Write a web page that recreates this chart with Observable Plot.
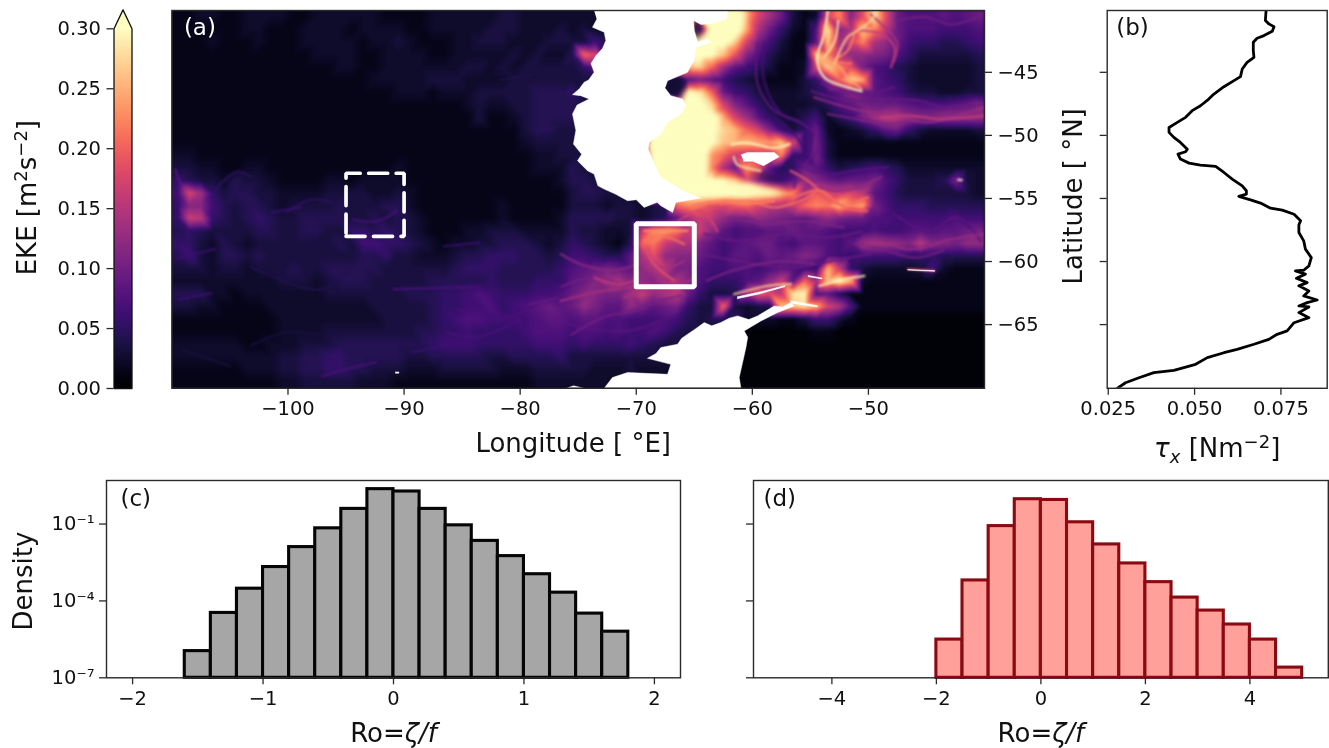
<!DOCTYPE html>
<html>
<head>
<meta charset="utf-8">
<script src="https://cdn.jsdelivr.net/npm/d3@7"></script>
<script src="https://cdn.jsdelivr.net/npm/@observablehq/plot@0.6"></script>
<style>
html,body{margin:0;padding:0;background:#fff}
#page{position:relative;width:1329px;height:748px;overflow:hidden;background:#fff}
#page svg{position:absolute;overflow:visible}
</style>
</head>
<body>
<div id="page"></div>
<script>
// ---------- Panel (c): Ro histogram, surface
const roEdgesC = [-1.6,-1.4,-1.2,-1.0,-0.8,-0.6,-0.4,-0.2,0,0.2,0.4,0.6,0.8,1.0,1.2,1.4,1.6,1.8];
const densityC = [1.1e-6,3.4e-5,3e-4,2.1e-3,1.26e-2,6.8e-2,0.39,2.3,1.86,0.39,0.089,0.022,5.6e-3,1.1e-3,2.1e-4,3.2e-5,6.3e-6];
// ---------- Panel (d): Ro histogram, red
const roEdgesD = [-2,-1.5,-1,-0.5,0,0.5,1,1.5,2,2.5,3,3.5,4,4.5,5];
const densityD = [3.1e-6,6.3e-4,0.083,0.93,0.87,0.117,0.016,2.9e-3,5.4e-4,1.35e-4,4.2e-5,1.2e-5,3.1e-6,2.5e-7];
// ---------- Panel (b): zonal wind stress against latitude
const tauX = [.0707,.0705,.0715,.0730,.0725,.0701,.0681,.0670,.0670,.0672,.0652,.0638,.0633,.0614,.0585,.0556,.0541,.0517,.0493,.0474,.0450,.0426,.0426,.0440,.0459,.0479,.0474,.0452,.0459,.0484,.0517,.0561,.0585,.0609,.0638,.0650,.0650,.0628,.0662,.0691,.0720,.0754,.0788,.0807,.0802,.0802,.0816,.0821,.0838,.0831,.0816,.0792,.0821,.0795,.0826,.0802,.0831,.0816,.0855,.0826,.0802,.0831,.0802,.0831,.0788,.0768,.0739,.0715,.0672,.0623,.0585,.0537,.0503,.0440,.0382,.0339,.0300,.0276];
const tauLat = [-40.1,-40.9,-41.16,-41.38,-41.75,-42.09,-42.3,-42.62,-43.28,-43.81,-44.21,-44.74,-45.34,-45.66,-46.14,-46.72,-47.12,-47.65,-48.04,-48.57,-48.97,-49.37,-49.76,-50.16,-50.56,-51.09,-51.3,-51.48,-51.88,-52.2,-52.36,-52.46,-52.94,-53.47,-54.0,-54.39,-54.66,-54.84,-55.11,-55.37,-55.77,-55.93,-56.25,-56.77,-57.09,-57.7,-58.36,-59.02,-59.69,-60.35,-60.69,-60.74,-61.0,-61.33,-61.67,-61.93,-62.33,-62.73,-63.05,-63.26,-63.52,-63.6,-64.05,-64.45,-64.85,-65.5,-65.77,-66.17,-66.56,-66.96,-67.23,-67.62,-68.15,-68.63,-68.81,-69.21,-69.61,-70.06];
// ---------- Panel (a): EKE on a 1 degree grid, one character per cell, in hundredths of m2/s2 (base 36)
const ekeWest = [
"1122112222112222221111222222332222",
"1111112211122221222211222223332223",
"1112111211122222122321112233322233",
"1111111111112222112222112222232322",
"1111111111111122112222222332323333",
"1111111111111111122222333222233333",
"1111111111111111111222122233333444",
"1111111111111111111111111232233444",
"1111111111111111111111111131123444",
"1111111111111111111111111111113443",
"1111111111111111111111111111112333",
"2211111111111111111111111111111223",
"3322112211111111111211111111111222",
"5433243321111221222211111111111112",
"6hd5344332222333322321111111111111",
"5bb6434432333343334421111111211111",
"5gf5434543344443343432111111211112",
"4543333443344335545432111223332222",
"5532432333333343665543212233444323",
"4632443433333333445332223445554434",
"3332332333433444443333334555444445",
"2222222223332344433333444445444555",
"4442212222222333333344455676555667",
"3322111122222222233333455667567898",
"1111111112222222223333456776666788",
"1111111112222333333334455655556777",
"2222221122233344444444566655555666",
"2222222223344554444433444443344445",
"1111112223344554433322233333222333",
"1111111112233333222111111111111222"];
const ekeEast = [
"2222222uuuuuuuuohd9312hmbisi97778789",
"2322222uuuu8uuuoe95217sbeqmf97776667",
"3364222uuuuuuuqha63118qdhmec96554456",
"4kh4222uuuuuuqjb74211pmeccba75333334",
"3583222uuuoqkd8643112hqmia7643222223",
"33332223328a8643211135ckro8653222223",
"5333222224tsk96532223468b98764332233",
"4322222uuuuurhb8532223478a999877789b",
"4322222uuuuusohd853246246adffcbbcccc",
"3322222uuuuuurpkhb635921235895322223",
"3322222uutttuqpponqh5a31111111111111",
"3322222uuuuunkgfggm55a31111111111111",
"4333222uuuuume9nj845a853456542222222",
"4433222uuuuuutphb868cb9899a753334a32",
"3443322uuuuuuuuusqomdjhghf8643333332",
"333233234kmkihjkhfegkmlqmoa755544444",
"4444332348dgfcaacba98aca997766666766",
"433223gmnlggc8677889887666766787889a",
"543214klgeea8678997688768dedcbfbbacc",
"665448eicbb976887989ba76566665554444",
"789a98cefaa76677678765pg532222362111",
"89bdebcbdeb755578cg8kdqup21111111111",
"9bbaadgceg95334djifst784111111111111",
"9ca88ca89a533k3233qqsphe711111111111",
"788776667643445222113663100000000000",
"677676676433222000000110000000000000",
"565556543322220000000000000000000000",
"333333333322000000000000000000000000",
"332223222211000000000000000000000000",
"222222221110000000000000000000000000"];
const lonRange = [-110,-40];
const latRange = [-40.1,-70.05];
// sharp filaments: value (m2/s2), then lon / lat vertices
const filValue = [.30,.27,.16,.13,.16,.085,.065,.21,.21,.13,.07,.23,.21,.19,.14,.16,.14,.27,.29,.19,.32,
 .24,.28,.22,.14,.10,.09,.11,.09,.2,.12,.08,.22,.17,.11,.09,.09,.1,.08,.11,.1,.12,.1,.08,.06,.14,.14,.33,.28,
 .07,.07,.07,.06,.09,.06,.06,.07,.07,.04,.06,.05,.05,.05,.04,.08,.06,.035,.035];
const filLon = [
[-53.5,-53.8,-54.4,-53.8,-52.1,-50.6],
[-52.94,-51.79,-50.93,-49.78,-49.2],
[-50.93,-48.91,-47.76,-48.05],
[-54.66,-50.64,-47.76,-44.89,-40],
[-48.91,-46.33,-44.03,-40],
[-59.55,-59.55,-58.11,-55.81,-54.37,-54.37,-56.1,-56.39],
[-59,-59,-57.5,-55.1,-55.1,-56.7],
[-56.39,-54.09,-52.36,-50.06],
[-62.71,-60.41,-58.11,-55.81,-54.66],
[-50.64,-48.34,-46.61,-45.18,-43.45,-40],
[-48.9,-44.9,-42.9,-41.2],
[-69.32,-67.88,-65.58],
[-69.32,-67.88,-65.87],
[-69.32,-68.45,-66.73],
[-76.5,-73.63,-70.75,-69.6],
[-73.63,-71.33,-69.89],
[-71.04,-69.32,-65.87],
[-61.56,-58.68,-56.67],
[-54.23,-52.07,-50.35],
[-46.61,-44.31],
[-42.25,-41.95],
[-54.4,-52.6,-51.8,-50.6],
[-52.6,-52.9,-53.8],
[-51.2,-51.8,-52.9,-51.5],
[-49.8,-48.3,-47.5,-47.8],
[-47.5,-45.2,-42.9,-40],
[-54.9,-52.1,-49.2,-46,-43.2,-40],
[-53.5,-50.6,-48.3,-46],
[-54.1,-51.8,-50.1,-47.8],
[-56.7,-55.2,-53.8,-52.1,-50.1],
[-55,-52.6,-50.9,-48.9],
[-55.8,-53.5,-51.2,-48.3],
[-65,-62.7,-60.4,-58.1],
[-66.4,-64.4,-63],
[-62.1,-58.7,-55.8,-52.1],
[-64.1,-60.9,-57,-53.5,-50.6],
[-64.4,-61,-56.4,-53.5,-49.8],
[-50.6,-48.9,-46,-43.5],
[-47.8,-44.9,-42.3,-40.3],
[-63.9,-61.6,-57.8,-54.7],
[-76.5,-73.9,-71.3],
[-76.5,-74.8,-71.9,-69.9],
[-75.6,-72.8,-70.2,-67.9,-65.6],
[-76.5,-74.8,-70.75,-67.9],
[-58.1,-56.4,-55.5,-56.4],
[-69,-67.9,-65.9],
[-68.2,-66.2,-65],
[-61.8,-60.4,-58.1,-56.8],
[-61.6,-61.3,-59.3],
[-94.4,-92.4,-90.6],
[-97.1,-94,-92.4],
[-90.9,-83.5],
[-86.6,-83.5],
[-79.2,-76.8],
[-89.3,-83.8],
[-101.4,-98.9],
[-86.3,-83.8,-79.9],
[-85.4,-81.7,-78.6],
[-103.2,-97.1,-94],
[-109.4,-106.6],
[-100.1,-98,-96.2],
[-106.3,-104.4,-103.2],
[-78.6,-76.8],
[-81.7,-79],
[-109.7,-109.2],
[-109.7,-106.3],
[-109.1,-105],
[-103.2,-100.1,-95.5]];
const filLat = [
[-40.1,-42,-43.9,-45.4,-46.1,-46.5],
[-44.34,-42.22,-41.69,-40.9,-40.1],
[-41.69,-41.96,-43.01,-44.6],
[-46.98,-48.04,-48.44,-48.97,-47.78],
[-48.57,-48.44,-48.7,-48.44],
[-42.75,-45.92,-48.04,-48.97,-50.16,-51.21,-52.8,-54.12],
[-42.75,-45.6,-48.3,-49.5,-51.2,-53.1],
[-54.92,-54.39,-55.45,-54.92],
[-55.45,-55.18,-55.71,-55.18,-54.65],
[-58.75,-58.62,-59.02,-58.89,-58.36,-57.83],
[-56.25,-57.05,-56.5,-57.3],
[-57.56,-57.56,-57.56],
[-58.36,-57.96,-58.62],
[-58.75,-60.21,-61.53],
[-63.12,-62.46,-62.06,-61.8],
[-61.27,-61.8,-61.4],
[-62.86,-62.33,-62.59],
[-62.59,-61.93,-61.8],
[-61.93,-61.4,-61.14],
[-60.6,-60.74],
[-53.52,-53.55],
[-44.1,-44.5,-45.4,-46.3],
[-40.9,-42.5,-43.8],
[-42,-43.3,-44.1,-44.3],
[-40.4,-41.7,-42.7,-44.1],
[-40.9,-40.6,-41.2,-40.4],
[-46.5,-47.2,-47.2,-47.2,-47.8,-47.5],
[-48.3,-48.8,-49.1,-48.8],
[-45.9,-46.5,-46.7,-46.2],
[-52.8,-53.6,-54.7,-55.7,-56],
[-53.9,-54.4,-54.1,-53.3],
[-52.5,-53.1,-52.8,-52.5],
[-55.7,-55.2,-55.4,-55.2],
[-56.8,-56,-57.6],
[-56.5,-57,-56.8,-57.3],
[-57.8,-58.4,-57.8,-58.1,-57.6],
[-59.4,-60,-60.5,-60,-59.4],
[-58.6,-59,-59.7,-59.1],
[-56.2,-57.6,-56.5,-58.4],
[-61.5,-60.7,-60,-60.2],
[-62,-61.3,-61.8],
[-59.4,-60.2,-60.7,-60.2],
[-65.8,-64.4,-63.9,-63.1,-62.6],
[-64.7,-65.2,-65.5,-64.7],
[-48.6,-49.9,-51.2,-52.3],
[-59.4,-60.5,-60],
[-61.5,-61.8,-61.3],
[-50.7,-50.6,-51,-50.7],
[-51.7,-52.3,-52.8],
[-56.67,-56.82,-56.0],
[-69.1,-68.3,-68.0],
[-62.2,-62],
[-58.8,-58.5],
[-63.4,-62.9],
[-67.2,-66.2],
[-56.1,-55.7],
[-65.6,-66,-64.6],
[-63.8,-64.6,-63.4],
[-60.4,-62.2,-59.8],
[-63,-62.5],
[-56.1,-55.1,-55.3],
[-54.3,-52.9,-53.3],
[-49.8,-49.3],
[-45.6,-45.2],
[-52.7,-54],
[-59.8,-59],
[-67,-68.3],
[-66.7,-65.6,-66]];
// saturated shelf waters and the dark bays
const patchValue = [.32,.32,.03,.03,.02];
const patchLon = [
[-65.58,-63.86,-62.71,-63,-63.86,-63.86,-63.86,-63,-60.41,-57.25,-58.11,-61.56,-64.43,-67.88,-69.03,-66.73],
[-62.22,-60.55,-60.84,-61.84,-63.57,-64.43,-65.44,-65,-65],
[-67.6,-66.2,-65.7,-66.2,-67.2],
[-65.1,-64.5,-64.4,-64.7,-65.1],
[-60.6,-57.6,-56.4,-58.6]];
const patchLat = [
[-46.32,-47.91,-48.44,-49.36,-50.69,-52.8,-53.99,-53.73,-53.73,-54.52,-54.79,-54.65,-54.97,-53.33,-50.69,-48.3],
[-40.1,-40.1,-41.56,-42.62,-43.28,-43.94,-45.26,-44.5,-42.75],
[-45.6,-45.3,-46.1,-46.9,-46.9],
[-40.8,-40.9,-41.5,-42.4,-42.2],
[-52.9,-53.7,-54.1,-53.2]];
// land mask outlines
const landLon = [
[-73.63,-62.13,-62.2,-63.57,-64.43,-65.06,-65,-64.72,-63.86,-63.57,-64.29,-64.86,-65,-65.3,-65.58,-66.44,-67.3,-67.53,-67.02,-66.01,-65.72,-66.15,-67.3,-67.88,-68.88,-68.97,-68.31,-67.88,-65.87,-64.43,-66.59,-66.87,-67.88,-68.2,-69.32,-70,-70.75,-71.8,-72.76,-73.3,-73.63,-74.2,-75.06,-74.7,-75.41,-75.2,-75.49,-75.1,-74.06,-74.78,-75.49,-74.9,-74.49,-74.1,-73.63,-73.9,-73.48,-72.9,-72.62,-72.76,-73.77,-73.4],
[-60.98,-60.41,-58.11,-57.68,-58.54,-59.03,-59.98,-60.75],
[-72.76,-72.05,-70.75,-67.3,-67.02,-69.03,-68.3,-67.88,-66.44,-66.1,-65.58,-65,-64.14,-63.5,-62.71,-62,-61.27,-60.3,-59.55,-58.11,-57.4,-56.67,-56.39,-57.82,-59.26,-60.7,-60.4,-60.55,-61.13,-60.98],
[-76,-75.4,-74.5],
[-61.3,-59.3,-57.2,-57.2,-59.3,-61.3],
[-56.7,-54.4,-54.4,-56.7],
[-55.2,-54,-54,-55.2],
[-46.6,-44.3,-44.3,-46.6],
[-90.75,-90.45,-90.45,-90.75]];
const landLat = [
[-40.1,-40.1,-40.77,-41.16,-41.2,-40.9,-41.69,-42.62,-42.35,-42.62,-42.88,-43.01,-44.07,-44.5,-45,-45.34,-45.66,-46.24,-46.85,-47.11,-47.64,-48.3,-48.97,-49.89,-50.55,-51.08,-52.54,-53.33,-54.44,-54.97,-55.32,-56.11,-55.58,-55.3,-55.71,-55.1,-55.18,-54.65,-54.26,-54,-53.07,-52.8,-52.01,-51.5,-50.69,-49.6,-48.3,-47.6,-47.11,-46.85,-46.77,-46.3,-45.79,-45.6,-45,-44.3,-43.68,-43.1,-42.48,-41.82,-41.43,-40.8],
[-51.53,-51.35,-51.35,-51.69,-52.14,-52.4,-52.06,-52.06],
[-70.05,-69.2,-68.8,-68.94,-68.15,-67.67,-67.3,-66.82,-66.56,-66.1,-65.76,-65.4,-64.84,-65.1,-64.84,-64.5,-64.31,-64.6,-64.31,-63.52,-63.6,-63.25,-63.52,-64.05,-64.71,-65.5,-66,-66.82,-69.2,-70.05],
[-70.05,-69.85,-70.05],
[-62.8,-62.4,-61.9,-62,-62.55,-62.95],
[-63.1,-63.5,-63.6,-63.3],
[-61.1,-61.3,-61.38,-61.2],
[-60.63,-60.72,-60.78,-60.68],
[-68.75,-68.75,-68.85,-68.85]];
// study boxes
const solidBoxLon = [-70,-65,-65,-70,-70];
const solidBoxLat = [-62,-62,-57,-57,-62];
const dashBoxLon = [-95,-90,-90,-95,-95];
const dashBoxLat = [-58,-58,-53,-53,-58];
// tick values
const lonTicks = [-100,-90,-80,-70,-60,-50];
const latTicks = [-45,-50,-55,-60,-65];
const ekeTicks = [0,.05,.10,.15,.20,.25,.30];
const tauTicks = [.025,.05,.075];
const densityTicks = [1e-7,1e-4,1e-1];
const densityTickText = ["10\u207b\u2077","10\u207b\u2074","10\u207b\u00b9"];
const roTicksC = [-2,-1,0,1,2];
const roTicksD = [-4,-2,0,2,4];

const FONT = "DejaVu Sans";
const TICK = 19.5, LABEL = 26;
const INK = "#2a2a2a";
const magma = {type:"linear",scheme:"magma",domain:[0,.3],clamp:true};
const minus = s => String(s).replace("-","\u2212");
const page = document.getElementById("page");

function panel(box, frame, options, html) {
  const svg = Plot.plot({
    width: box.r - box.l, height: box.b - box.t,
    marginLeft: frame.l - box.l, marginRight: box.r - frame.r,
    marginTop: frame.t - box.t, marginBottom: box.b - frame.b,
    style: {background:"transparent",fontFamily:FONT,fontSize:TICK+"px",color:"#111"},
    ...options
  });
  svg.style.left = box.l + "px"; svg.style.top = box.t + "px";
  d3.select(svg).selectAll("text").each(function() {
    const t = this.textContent;
    if (html[t]) this.innerHTML = html[t];
  });
  page.appendChild(svg);
  return svg;
}
const sup = (s, size) => `<tspan dy="-9" font-size="${size}">${s}</tspan>`;
const after = (size) => `<tspan dy="9" font-size="${size}">`;
const labelText = (text, o) => Plot.text([text], {text:d=>d, fontSize:LABEL, fill:"#111", lineAnchor:"middle", textAnchor:"middle", ...o});

// ---------- colour bar
const cbSteps = d3.range(0, .3, .001);
const cbFrame = {l:113.5,r:131.5,t:28.3,b:388};
panel({l:0,r:165,t:0,b:470}, cbFrame, {
  x:{domain:[0,1],axis:null},
  y:{domain:[0,.3],axis:null},
  color:magma,
  marks:[
    Plot.raster(cbSteps,{width:1,height:cbSteps.length,x1:0,x2:1,y1:0,y2:.3}),
    Plot.line([[0,.3],[.5,.3158],[1,.3]],{x:"0",y:"1",fill:()=>.31,stroke:"none"}),
    Plot.line([[0,0],[0,.3],[.5,.3158],[1,.3],[1,0],[0,0]],{x:"0",y:"1",stroke:"#111",strokeWidth:1.3,fill:"none"}),
    Plot.axisY({anchor:"left",ticks:ekeTicks,tickSize:7,tickPadding:6,fontSize:TICK,tickFormat:d3.format(".2f"),label:null,stroke:INK,strokeWidth:1.3}),
    labelText("EKE [m2s-2]",{frameAnchor:"left",dx:-86.5,rotate:-90,dy:-11})
  ]
}, {"EKE [m2s-2]":`EKE [m${sup("2",18)}${after(26)}s</tspan>${sup("\u22122",18)}${after(26)}]</tspan>`});

// ---------- map
const rowStep = (latRange[0]-latRange[1])/30;
const ekeAt = (r,c)=>{
  const rr = Math.max(0,Math.min(29,r)), cc = Math.max(0,Math.min(69,c));
  return parseInt((ekeWest[rr]+ekeEast[rr])[cc]||"0",36)/100+.004;
};
const ekeCells = d3.range(-2,32).flatMap(r=>d3.range(-2,72).map(c=>({
  lon:lonRange[0]+c+.5,
  lat:latRange[0]-(r+.5)*rowStep,
  v:ekeAt(r,c)})));
const nest = (lons,lats,vals)=>lons.flatMap((ln,i)=>ln.map((lon,j)=>({id:i,lon,lat:lats[i][j],v:vals?vals[i]:0})));
const filaments = nest(filLon,filLat,filValue);
const patches = nest(patchLon,patchLat,patchValue);
const land = nest(landLon,landLat);
const boxRow = (lon,lat)=>lon.map((x,i)=>({lon:x,lat:lat[i]}));
panel({l:165,r:1065,t:0,b:470},{l:171.4,r:984,t:10,b:387.8},{
  x:{domain:lonRange,axis:null},
  y:{domain:[latRange[1],latRange[0]],axis:null},
  color:magma,
  marks:[
    Plot.frame({fill:"#0b0722",stroke:"none"}),
    Plot.raster(ekeCells,{x:"lon",y:"lat",fill:"v",interpolate:"barycentric",pixelSize:1,imageFilter:"blur(1.2px)",clip:"frame"}),
    Plot.line(patches,{x:"lon",y:"lat",z:"id",fill:"v",stroke:"none",curve:"linear",imageFilter:"blur(3px)",clip:"frame"}),
    Plot.line(filaments,{x:"lon",y:"lat",z:"id",stroke:"v",strokeWidth:2.4,strokeOpacity:.8,curve:"catmull-rom",imageFilter:"blur(1.1px)",mixBlendMode:"lighten",clip:"frame"}),
    Plot.line(land,{x:"lon",y:"lat",z:"id",fill:"white",stroke:"white",strokeWidth:.5,curve:"linear",clip:"frame"}),
    Plot.line(boxRow(solidBoxLon,solidBoxLat),{x:"lon",y:"lat",stroke:"white",strokeWidth:5,strokeLinejoin:"miter"}),
    Plot.line(boxRow(dashBoxLon,dashBoxLat),{x:"lon",y:"lat",stroke:"white",strokeWidth:3.7,strokeDasharray:"19,8.5",strokeLinejoin:"miter"}),
    Plot.frame({stroke:INK,strokeWidth:1.4}),
    Plot.axisX({anchor:"bottom",ticks:lonTicks,tickSize:7,tickPadding:6,fontSize:TICK,tickFormat:minus,label:null,stroke:INK,strokeWidth:1.3}),
    Plot.axisY({anchor:"right",ticks:latTicks,tickSize:7,tickPadding:6,fontSize:TICK,tickFormat:minus,label:null,stroke:INK,strokeWidth:1.3}),
    labelText("Longitude [ \u00b0E]",{frameAnchor:"bottom",dy:55,dx:-5}),
    Plot.text(["(a)"],{text:d=>d,frameAnchor:"top-left",dx:12,dy:17,fontSize:23,fill:"white",lineAnchor:"middle"})
  ]
},{});

// ---------- wind stress
const tauRows = tauX.map((t,i)=>({t,lat:tauLat[i]}));
panel({l:1065,r:1329,t:0,b:470},{l:1106.7,r:1326.7,t:10,b:387.8},{
  x:{domain:[.0247,.0884],axis:null},
  y:{domain:[latRange[1],latRange[0]],axis:null},
  marks:[
    Plot.line(tauRows,{x:"t",y:"lat",stroke:"#000",strokeWidth:2.8,curve:"linear",clip:"frame"}),
    Plot.frame({stroke:INK,strokeWidth:1.4}),
    Plot.axisX({anchor:"bottom",ticks:tauTicks,tickSize:7,tickPadding:6,fontSize:TICK,tickFormat:d3.format(".3f"),label:null,stroke:INK,strokeWidth:1.3}),
    Plot.axisY({anchor:"left",ticks:latTicks,tickSize:7,tickFormat:()=>"",label:null,stroke:INK,strokeWidth:1.3}),
    labelText("tau",{frameAnchor:"bottom",dy:60}),
    labelText("Latitude [ \u00b0N]",{frameAnchor:"left",dx:-33.7,dy:-3,rotate:-90}),
    Plot.text(["(b)"],{text:d=>d,frameAnchor:"top-left",dx:9,dy:17,fontSize:23,fill:"#111",lineAnchor:"middle"})
  ]
},{"tau":`<tspan font-style="italic">\u03c4</tspan><tspan dy="6" font-size="18" font-style="italic">x</tspan><tspan dy="-6"> [Nm</tspan>${sup("\u22122",18)}${after(26)}]</tspan>`});

// ---------- histograms
const histRows = (edges,dens)=>dens.map((d,i)=>({x1:edges[i],x2:edges[i+1],d,base:1e-7}));
const roHtml = {"Ro":'Ro=<tspan font-style="italic">\u03b6/f</tspan>'};
const yLog = {type:"log",domain:[1e-7,5],axis:null};
panel({l:0,r:700,t:470,b:748},{l:106,r:680,t:480,b:677.3},{
  x:{domain:[-2.2,2.2],axis:null},
  y:yLog,
  marks:[
    Plot.rect(histRows(roEdgesC,densityC),{x1:"x1",x2:"x2",y1:"base",y2:"d",fill:"#a6a6a6",stroke:"#050505",strokeWidth:3.1,strokeLinejoin:"miter"}),
    Plot.frame({stroke:INK,strokeWidth:1.4}),
    Plot.axisX({anchor:"bottom",ticks:roTicksC,tickSize:7,tickPadding:6,fontSize:TICK,tickFormat:minus,label:null,stroke:INK,strokeWidth:1.3}),
    Plot.axisY({anchor:"left",ticks:densityTicks,tickSize:7,tickPadding:5,fontSize:TICK,tickFormat:d=>densityTickText[densityTicks.indexOf(d)],label:null,stroke:INK,strokeWidth:1.3}),
    labelText("Ro",{frameAnchor:"bottom",dy:55.7}),
    labelText("Density",{frameAnchor:"left",dx:-83,dy:2,rotate:-90}),
    Plot.text(["(c)"],{text:d=>d,frameAnchor:"top-left",dx:14,dy:18,fontSize:23,fill:"#111",lineAnchor:"middle"})
  ]
},roHtml);
panel({l:700,r:1329,t:470,b:748},{l:753,r:1327.8,t:480,b:677.3},{
  x:{domain:[-5.5,5.5],axis:null},
  y:yLog,
  marks:[
    Plot.rect(histRows(roEdgesD,densityD),{x1:"x1",x2:"x2",y1:"base",y2:"d",fill:"#ffa09b",stroke:"#8b0a12",strokeWidth:3.1,strokeLinejoin:"miter"}),
    Plot.frame({stroke:INK,strokeWidth:1.4}),
    Plot.axisX({anchor:"bottom",ticks:roTicksD,tickSize:7,tickPadding:6,fontSize:TICK,tickFormat:minus,label:null,stroke:INK,strokeWidth:1.3}),
    Plot.axisY({anchor:"left",ticks:densityTicks,tickSize:7,tickFormat:()=>"",label:null,stroke:INK,strokeWidth:1.3}),
    labelText("Ro",{frameAnchor:"bottom",dy:55.7}),
    Plot.text(["(d)"],{text:d=>d,frameAnchor:"top-left",dx:10,dy:18,fontSize:23,fill:"#111",lineAnchor:"middle"})
  ]
},roHtml);
</script>
</body>
</html>
